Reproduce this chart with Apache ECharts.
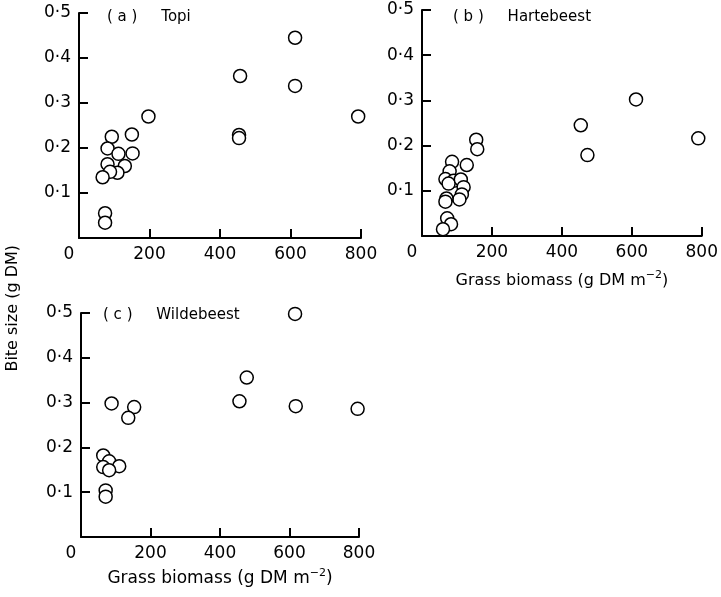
<!DOCTYPE html>
<html lang="en">
	<head>
		<meta charset="utf-8" />
		<title>Bite size vs grass biomass</title>
		<style>
		html,body{margin:0;padding:0;background:#fff}
		#main{width:721px;height:597px}
		</style>
	</head>
	<body>
		<div id="main"></div>

		<script type="text/javascript" src="https://cdn.jsdelivr.net/npm/echarts@6/dist/echarts.min.js"></script>
		<script type="text/javascript">
		// (a) Topi
		var topiX = [613,457,613,792,197,454,454,150,152,93,81,112,81,130,109,88,67,74,74];
		var topiY = [0.445,0.36,0.338,0.27,0.27,0.229,0.222,0.23,0.188,0.225,0.199,0.187,0.164,0.16,0.145,0.147,0.135,0.055,0.034];
		// (b) Hartebeest
		var hartX = [612,454,473,790,155,158,128,86,79,67,90,76,111,119,114,107,70,67,72,83,60];
		var hartY = [0.302,0.245,0.179,0.216,0.213,0.192,0.157,0.164,0.143,0.126,0.122,0.116,0.125,0.108,0.092,0.081,0.083,0.076,0.039,0.026,0.015];
		// (c) Wildebeest
		var wildX = [616,477,456,618,796,88,153,136,64,81,110,64,81,71,71];
		var wildY = [0.498,0.356,0.303,0.292,0.286,0.298,0.29,0.266,0.182,0.169,0.158,0.156,0.149,0.104,0.09];

		var xTicks = [0,200,400,600,800];
		var yTicks = [0,0.1,0.2,0.3,0.4,0.5];
		var xName = 'Grass biomass (g DM m{sup|\u22122})';
		var yName = 'Bite size (g DM)';

		var FONT = 'DejaVu Sans';

		function pairs(xs, ys){
			var out = [];
			for(var i=0;i<xs.length;i++){ out.push([xs[i], ys[i]]); }
			return out;
		}

		function xAxisOf(idx, showName, nameSize, gap){
			return {
				gridIndex: idx, type:'value',
				min: xTicks[0], max: xTicks[xTicks.length-1], interval: 200,
				splitLine:{show:false},
				axisLine:{lineStyle:{color:'#000',width:2}},
				axisTick:{inside:true,length:9,lineStyle:{color:'#000',width:2}},
				axisLabel:{
					color:'#000', fontFamily:FONT, fontSize:17, margin:8,
					formatter:function(v){ return v===0 ? '{z|0}' : String(v); },
					rich:{ z:{fontFamily:FONT,fontSize:17,color:'#000',padding:[0,20,0,0]} }
				},
				name: showName ? xName : '',
				nameLocation:'middle', nameGap: gap,
				nameTextStyle:{
					color:'#000', fontFamily:FONT, fontSize:nameSize,
					rich:{ sup:{fontFamily:FONT,fontSize:11,color:'#000',padding:[0,0,10,0]} }
				}
			};
		}

		function yAxisOf(idx){
			return {
				gridIndex: idx, type:'value',
				min: yTicks[0], max: yTicks[yTicks.length-1], interval: 0.1,
				splitLine:{show:false},
				axisLine:{lineStyle:{color:'#000',width:2}},
				axisTick:{inside:true,length:9,lineStyle:{color:'#000',width:2}},
				axisLabel:{
					color:'#000', fontFamily:FONT, fontSize:17, margin:8,
					formatter:function(v){ return v===0 ? '' : '0\u00b7' + Math.round(v*10); }
				}
			};
		}

		function scatterOf(idx, data){
			return {
				type:'scatter', xAxisIndex:idx, yAxisIndex:idx,
				symbol:'circle', symbolSize:13,
				itemStyle:{color:'#fff',borderColor:'#000',borderWidth:1.5,opacity:1},
				data:data
			};
		}

		var myChart = echarts.init(document.getElementById('main'), null, {renderer:'canvas'});

		var titleStyle = {fontFamily:FONT,fontSize:15,fontWeight:'normal',color:'#000'};

		var option = {
			animation:false,
			backgroundColor:'#fff',
			grid:[
				{left:79, top:13, width:282, height:225},
				{left:422, top:10, width:282, height:226},
				{left:81, top:313, width:278, height:224}
			],
			xAxis:[ xAxisOf(0,false,16,34), xAxisOf(1,true,16,34), xAxisOf(2,true,17,31) ],
			yAxis:[ yAxisOf(0), yAxisOf(1), yAxisOf(2) ],
			title:[
				{text:'( a )     Topi', left:102, top:5, textStyle:titleStyle},
				{text:'( b )     Hartebeest', left:448, top:5, textStyle:titleStyle},
				{text:'( c )     Wildebeest', left:98, top:303, textStyle:titleStyle}
			],
			graphic:[{
				type:'text', left:5, top:245, rotation:Math.PI/2,
				style:{text:yName, fontFamily:FONT, fontSize:16, fill:'#000'}
			}],
			series:[
				scatterOf(0, pairs(topiX, topiY)),
				scatterOf(1, pairs(hartX, hartY)),
				scatterOf(2, pairs(wildX, wildY))
			]
		};

		myChart.setOption(option);
		</script>
	</body>
</html>
